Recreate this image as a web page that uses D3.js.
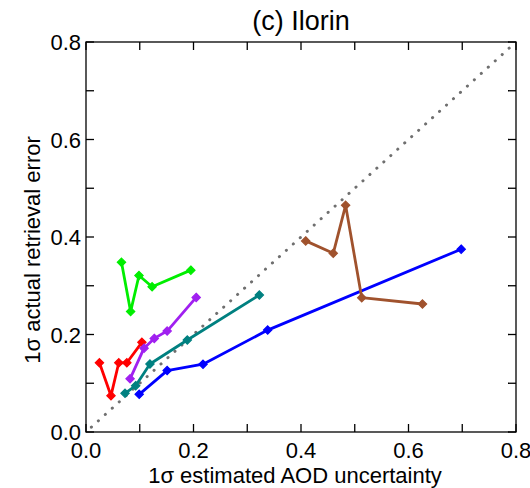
<!DOCTYPE html>
<html><head><meta charset="utf-8">
<script src="https://cdn.jsdelivr.net/npm/d3@7"></script>
<style>body{margin:0;background:#fff}text{font-family:"Liberation Sans",Arial,sans-serif}</style>
</head><body><svg id="c" width="530" height="488"></svg>
<script>
const redX=[0.025,0.0465,0.061,0.076,0.104], redY=[0.142,0.0745,0.142,0.142,0.184];
const greenX=[0.066,0.083,0.0986,0.123,0.195], greenY=[0.348,0.247,0.321,0.298,0.332];
const purpleX=[0.082,0.108,0.127,0.151,0.205], purpleY=[0.109,0.172,0.192,0.207,0.276];
const tealX=[0.0726,0.0924,0.119,0.1885,0.3225], tealY=[0.0793,0.095,0.1395,0.1887,0.281];
const blueX=[0.099,0.151,0.2177,0.338,0.698], blueY=[0.0773,0.126,0.139,0.209,0.375];
const brownX=[0.4087,0.460,0.483,0.513,0.626], brownY=[0.392,0.3665,0.465,0.2755,0.2626];
const seriesColors=["#ff0000","#00ee00","#a020f0","#008080","#0000ff","#a0522d"];
const tickLabels=["0.0","0.2","0.4","0.6","0.8"];
const title="(c) Ilorin", xTitle="1σ estimated AOD uncertainty", yTitle="1σ actual retrieval error";

const svg=d3.select("#c");
const L=86,R=516,T=42,B=432;
const x=d3.scaleLinear().domain([0,0.8]).range([L,R]);
const y=d3.scaleLinear().domain([0,0.8]).range([B,T]);
const minor=d3.range(0,0.81,0.1);
const major=[0,0.2,0.4,0.6,0.8];

svg.append("line").attr("x1",x(0.01)).attr("y1",y(0.01)).attr("x2",x(0.8)).attr("y2",y(0.8))
 .attr("stroke","#6f6f6f").attr("stroke-width",3).attr("stroke-linecap","round")
 .attr("stroke-dasharray","0.1 9.3");

const data=[[redX,redY],[greenX,greenY],[purpleX,purpleY],[tealX,tealY],[blueX,blueY],[brownX,brownY]];
const line=d3.line().x(d=>x(d[0])).y(d=>y(d[1]));
data.forEach((s,i)=>{
  const pts=s[0].map((v,j)=>[v,s[1][j]]);
  svg.append("path").attr("d",line(pts)).attr("fill","none").attr("stroke",seriesColors[i]).attr("stroke-width",2.8).attr("stroke-linejoin","round");
  svg.selectAll(null).data(pts).enter().append("path")
    .attr("d",d3.symbol(d3.symbolDiamond2,44)())
    .attr("transform",d=>`translate(${x(d[0])},${y(d[1])})`)
    .attr("fill",seriesColors[i]).attr("stroke",seriesColors[i]).attr("stroke-width",1.2);
});

const g=svg.append("g").attr("stroke","#000").attr("stroke-width",1.3);
g.append("rect").attr("x",L).attr("y",T).attr("width",R-L).attr("height",B-T).attr("fill","none");
const tl=8;
minor.forEach(v=>{
  g.append("line").attr("x1",x(v)).attr("x2",x(v)).attr("y1",B).attr("y2",B-tl);
  g.append("line").attr("x1",x(v)).attr("x2",x(v)).attr("y1",T).attr("y2",T+tl);
  g.append("line").attr("y1",y(v)).attr("y2",y(v)).attr("x1",L).attr("x2",L+tl);
  g.append("line").attr("y1",y(v)).attr("y2",y(v)).attr("x1",R).attr("x2",R-tl);
});
major.forEach((v,i)=>{
  svg.append("text").attr("x",x(v)).attr("y",B+26).attr("text-anchor","middle").attr("font-size",22).text(tickLabels[i]);
  svg.append("text").attr("x",L-5).attr("y",y(v)+8).attr("text-anchor","end").attr("font-size",22).text(tickLabels[i]);
});
svg.append("text").attr("x",301).attr("y",30).attr("text-anchor","middle").attr("font-size",27).text(title);
svg.append("text").attr("x",295).attr("y",483).attr("text-anchor","middle").attr("font-size",22).text(xTitle);
svg.append("text").attr("transform","translate(40,250) rotate(-90)").attr("text-anchor","middle").attr("font-size",22).text(yTitle);
</script></body></html>
